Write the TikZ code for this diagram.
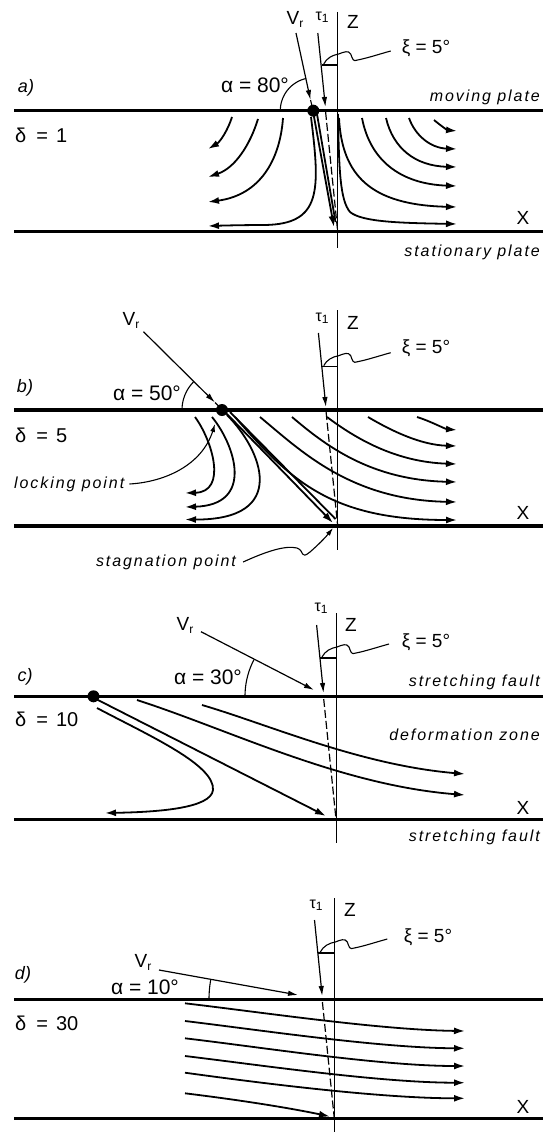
\documentclass[tikz,border=0pt]{standalone}
\usepackage{fontspec}
\setmainfont{Liberation Sans}
\usetikzlibrary{arrows.meta}
\newcommand\xileader[2]{%
  \begin{scope}[shift={(#1,#2)}]
    \draw[thinln] (-16,0) -- (0,0);
    \draw[thinln] (-14,-1) .. controls (-11,-7) and (-5,-10) .. (1,-11)
      .. controls (6,-13) and (11,-15) .. (13,-11)
      .. controls (15,-6) and (15,-3) .. (20,-5)
      .. controls (30,-7) and (42,-11) .. (53,-14);
  \end{scope}}
\newcommand\subr{\raisebox{-3pt}{\fontsize{12}{12}\selectfont r}}
\newcommand\subone{\raisebox{-2pt}{\fontsize{12}{12}\selectfont 1}}
\begin{document}
\begin{tikzpicture}[x=1pt,y=-1pt,
  plate/.style={line width=3.5pt},
  axisln/.style={line width=1pt},
  thinln/.style={line width=1.1pt},
  flow/.style={line width=1.8pt,-{Latex[length=11pt,width=7pt]}},
  flowplain/.style={line width=1.8pt},
  vec/.style={line width=1.2pt,-{Latex[length=10pt,width=5.5pt]}},
  lead/.style={line width=1.1pt,-{Latex[length=8pt,width=5pt]}},
  dashln/.style={line width=1.2pt,dash pattern=on 8pt off 3pt},
  lab/.style={inner sep=0pt,font=\fontsize{19}{19}\selectfont},
  alab/.style={inner sep=0pt,font=\fontsize{21}{21}\selectfont},
  dlab/.style={inner sep=0pt,font=\fontsize{20}{20}\selectfont},
  sml/.style={inner sep=0pt,font=\fontsize{16}{16}\selectfont},
  xilab/.style={inner sep=0pt,font=\fontsize{19}{19}\selectfont},
  plab/.style={inner sep=0pt,font=\fontsize{18}{18}\selectfont\itshape},
  itl/.style={inner sep=0pt,font=\fontsize{16}{16}\selectfont\itshape\addfontfeatures{LetterSpace=12}},
  dotn/.style={circle,fill,inner sep=0pt,minimum size=12pt},
]
\fill[white] (0,0) rectangle (549,1132);
\useasboundingbox (0,0) rectangle (549,1132);

%%%%%%%%%%%%%%%% panel a
\draw[plate] (14,110.7) -- (543,110.7);
\draw[plate] (14,231.7) -- (543,231.7);
\draw[axisln] (337.7,12) -- (337.7,248);
\draw[vec] (317.8,33) -- (325.4,107);
\draw[dashln] (325.6,112) -- (337.7,231.7);
\draw[vec] (296,33) -- (310.5,100);
\draw[thinln] (310.5,100) -- (313.3,110.7);
\draw[thinln] plot[domain=180:257.5,samples=25,variable=\t] ({313.3+33*cos(\t)},{110.7+33*sin(\t)});
\node[dotn] (dA) at (313.3,110.7) {};
\xileader{337.7}{65}
% left flow
\draw[flow] (232,117) .. controls (228,130) and (220,142) .. (208,149);
\draw[flow] (258,119) .. controls (250,145) and (235,168) .. (208,177);
\draw[flow] (283,118) .. controls (280,160) and (260,195) .. (208,202);
\draw[flow] (311,117) .. controls (320,190) and (322,224) .. (265,225) .. controls (245,225) and (225,225.5) .. (208,226);
\draw[flow] (313.5,114) -- (334,227);
\draw[flowplain] (317,114) -- (335.5,222);
% right flow
\draw[flow] (338,114) .. controls (339,170) and (340,200) .. (350,212) .. controls (362,222) and (400,223) .. (457,224);
\draw[flow] (339,118) .. controls (342,175) and (370,205) .. (457,207);
\draw[flow] (362,118) .. controls (370,160) and (400,184) .. (457,186);
\draw[flow] (386,118) .. controls (393,148) and (415,166) .. (457,167);
\draw[flow] (409,118) .. controls (415,135) and (430,148) .. (457,149);
\draw[flow] (434,120) .. controls (440,125) and (447,130) .. (457,131);
% labels
\node[plab] (la) at (26,88) {a)};
\node[dlab,anchor=west] (da) at (15,135) {δ\hspace{10pt}=\hspace{8pt}1};
\node[itl,anchor=east] (mpa) at (540,97) {moving plate};
\node[itl,anchor=east] (spa) at (540,252) {stationary plate};
\node[lab] (xa) at (523,218) {X};
\node[lab] (za) at (353,22) {Z};
\node[lab] (va) at (295,19) {V\subr};
\node[sml] (ta) at (322,17) {τ\subone};
\node[xilab] (xia) at (426,48) {ξ = 5°};
\node[alab] (aa) at (255,85) {α = 80°};

%%%%%%%%%%%%%%%% panel b
\draw[plate] (14,410) -- (543,410);
\draw[plate] (14,526) -- (543,526);
\draw[axisln] (337.7,310) -- (337.7,550);
\draw[vec] (318.4,333) -- (325.9,407);
\draw[dashln] (326.1,412) -- (337.7,526);
\draw[vec] (143.5,331.7) -- (215,402.5);
\draw[thinln] (215,402.5) -- (222,409.5);
\draw[thinln] plot[domain=180:225,samples=20,variable=\t] ({222+40*cos(\t)},{410+40*sin(\t)});
\node[dotn] (dB) at (222,410) {};
\xileader{337.7}{366.7}
% left flow
\draw[flow] (195,417) .. controls (212,440) and (228,492) .. (185,493);
\draw[flow] (212,417) .. controls (235,445) and (255,505) .. (185,507);
\draw[flow] (227,415) .. controls (262,450) and (290,520) .. (185,519.5);
\draw[flow] (226,413) -- (333,523);
\draw[flowplain] (230,412) -- (335.5,519);
% right flow
\draw[flow] (235,417) .. controls (290,480) and (330,520) .. (457,520);
\draw[flow] (260,417) .. controls (300,450) and (350,500) .. (457,502);
\draw[flow] (292,417) .. controls (325,445) and (370,480) .. (457,482);
\draw[flow] (327,417) .. controls (355,438) and (395,462) .. (457,464);
\draw[flow] (368,417) .. controls (390,430) and (420,445) .. (457,446);
\draw[flow] (417,417) .. controls (430,421) and (445,429) .. (457,430);
% labels
\node[plab] (lb) at (25,388) {b)};
\node[dlab,anchor=west] (db) at (15,435) {δ\hspace{10pt}=\hspace{8pt}5};
\node[lab] (xb) at (523,513) {X};
\node[lab] (zb) at (353,323) {Z};
\node[lab] (vb) at (131,320) {V\subr};
\node[sml] (tb) at (322,318) {τ\subone};
\node[xilab] (xib) at (426,348) {ξ = 5°};
\node[alab] (ab) at (147,393) {α = 50°};
\node[itl,anchor=west] (lkp) at (14,484) {locking point};
\node[itl] (sgp) at (166,562) {stagnation point};
\draw[lead] ([xshift=5pt]lkp.east) .. controls (165,482) and (202,465) .. (215,424);
\draw[lead] ([xshift=7pt]sgp.east) .. controls (265,552) and (285,545) .. (297,548)
  .. controls (305,551) and (300,560) .. (310,552) .. controls (318,545) and (325,538) .. (333,528);

%%%%%%%%%%%%%%%% panel c
\draw[plate] (14,696.3) -- (543,696.3);
\draw[plate] (14,819.3) -- (543,819.3);
\draw[axisln] (336,613) -- (336,843);
\draw[vec] (316.6,625) -- (323.5,693);
\draw[dashln] (323.7,699) -- (336,819.3);
\draw[vec] (201,631.7) -- (314,690);
\draw[thinln] plot[domain=180:207.5,samples=20,variable=\t] ({324.5+79.5*cos(\t)},{696.3+79.5*sin(\t)});
\node[dotn] (dC) at (93.5,696.3) {};
\xileader{336}{658}
\draw[flow] (96,699) -- (326,816);
\draw[flow] (97,708) .. controls (150,736) and (215,765) .. (213,790) .. controls (211,808) and (160,812) .. (105,813);
\draw[flow] (137,700) .. controls (230,730) and (340,785) .. (465,795);
\draw[flow] (202,705) .. controls (270,725) and (360,765) .. (465,774);
% labels
\node[plab] (lc) at (25,677) {c)};
\node[dlab,anchor=west] (dc) at (15,719) {δ\hspace{10pt}=\hspace{8pt}10};
\node[itl,anchor=east] (sfa) at (540,682) {stretching fault};
\node[itl,anchor=east] (dz) at (540,735) {deformation zone};
\node[itl,anchor=east] (sfb) at (540,837) {stretching fault};
\node[lab] (xc) at (523,808) {X};
\node[lab] (zc) at (351,625) {Z};
\node[lab] (vc) at (185,625) {V\subr};
\node[sml] (tc) at (321,608) {τ\subone};
\node[xilab] (xic) at (426,642) {ξ = 5°};
\node[alab] (ac) at (208,677) {α = 30°};

%%%%%%%%%%%%%%%% panel d
\draw[plate] (14,999.3) -- (543,999.3);
\draw[plate] (14,1118.5) -- (543,1118.5);
\draw[axisln] (334.3,898) -- (334.3,1132);
\draw[vec] (314.5,920) -- (322.2,996);
\draw[dashln] (322.4,1002) -- (334.3,1118.5);
\draw[vec] (159,970) -- (298,995);
\draw[thinln] plot[domain=180:190.2,samples=10,variable=\t] ({321+112*cos(\t)},{999.3+112*sin(\t)});
\xileader{334.3}{953}
\draw[flow] (185,1003.3) .. controls (260,1012) and (380,1030) .. (465,1031);
\draw[flow] (185,1021) .. controls (260,1030) and (380,1048) .. (465,1048.3);
\draw[flow] (185,1038.3) .. controls (260,1047) and (380,1066) .. (465,1066);
\draw[flow] (185,1056) .. controls (260,1065) and (380,1082.7) .. (465,1082.7);
\draw[flow] (185,1072.7) .. controls (260,1083) and (380,1098.3) .. (465,1098.3);
\draw[flow] (185,1093.3) .. controls (240,1100) and (290,1108) .. (330,1116.5);
% labels
\node[plab] (ld) at (23,975) {d)};
\node[dlab,anchor=west] (dd) at (15,1023) {δ\hspace{10pt}=\hspace{8pt}30};
\node[lab] (xd) at (523,1107) {X};
\node[lab] (zd) at (350,910) {Z};
\node[lab] (vd) at (143,962) {V\subr};
\node[sml] (td) at (316,905) {τ\subone};
\node[xilab] (xid) at (428,937) {ξ = 5°};
\node[alab] (ad) at (145,987) {α = 10°};
\end{tikzpicture}
\end{document}
